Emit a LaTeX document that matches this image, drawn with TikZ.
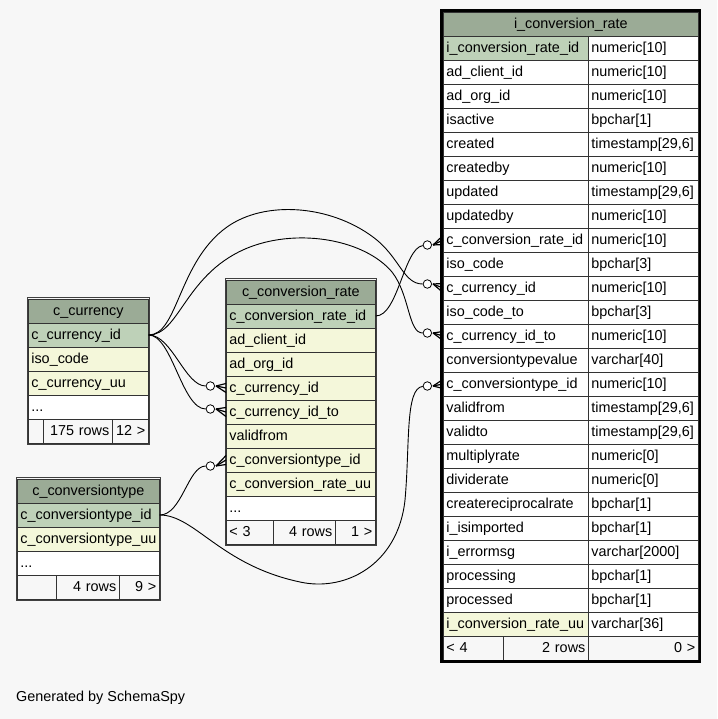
\documentclass[tikz,border=0pt]{standalone}
\usepackage{fontspec}
\setmainfont{Liberation Sans}
\usepackage{xcolor}
\usetikzlibrary{positioning}
\definecolor{hdr}{HTML}{9BAB96}
\definecolor{keycol}{HTML}{BED1B8}
\definecolor{idxcol}{HTML}{F4F7DA}
\definecolor{bgcol}{HTML}{F7F7F7}
\tikzset{
  cell/.style={draw=black!80, line width=0.7pt, anchor=west, minimum height=24pt,
    inner xsep=3pt, inner ysep=0pt, text height=10.5pt, text depth=0.8pt, align=left},
  head/.style={cell, fill=hdr, align=center},
  foot/.style={cell, fill=bgcol, align=right},
  frame/.style={draw=black!75, line width=0.9pt},
  odot/.style={circle, draw, fill=white, line width=0.8pt, minimum size=8.5pt, inner sep=0pt},
  rel/.style={line width=0.9pt},
  crowline/.style={line width=1.2pt},
}

\begin{document}
\begin{tikzpicture}[x=1pt,y=-1pt,font=\fontsize{14.4}{17}\selectfont]
\fill[bgcol] (0,0) rectangle (717,719);
\useasboundingbox (0,0) rectangle (717,719);

% i_conversion_rate
\node[head, text width=249pt] (irtitle) at (443,24) {i\_conversion\_rate};
\foreach \nm/\ty/\cl [count=\i] in {i\_conversion\_rate\_id/numeric[10]/keycol,
  ad\_client\_id/numeric[10]/white, ad\_org\_id/numeric[10]/white,
  isactive/bpchar[1]/white, created/{timestamp[29,6]}/white,
  createdby/numeric[10]/white, updated/{timestamp[29,6]}/white,
  updatedby/numeric[10]/white, c\_conversion\_rate\_id/numeric[10]/white,
  iso\_code/bpchar[3]/white, c\_currency\_id/numeric[10]/white,
  iso\_code\_to/bpchar[3]/white, c\_currency\_id\_to/numeric[10]/white,
  conversiontypevalue/varchar[40]/white, c\_conversiontype\_id/numeric[10]/white,
  validfrom/{timestamp[29,6]}/white, validto/{timestamp[29,6]}/white,
  multiplyrate/numeric[0]/white, dividerate/numeric[0]/white,
  createreciprocalrate/bpchar[1]/white, i\_isimported/bpchar[1]/white,
  i\_errormsg/varchar[2000]/white, processing/bpchar[1]/white,
  processed/bpchar[1]/white, i\_conversion\_rate\_uu/varchar[36]/idxcol}{
  \node[cell, fill=\cl, text width=139pt] (irn\i) at (443,24+24*\i) {\nm};
  \node[cell, fill=white, text width=104pt] (irt\i) at (588,24+24*\i) {\ty};
}
\node[foot, align=left, text width=54pt] (irf1) at (443,648) {<~4};
\node[foot, text width=79pt] (irf2) at (503,648) {2~rows};
\node[foot, text width=104pt] (irf3) at (588,648) {0~>};
\draw[line width=2.6pt] ([shift={(-1.3pt,1.3pt)}]irtitle.north west) rectangle ([shift={(1.3pt,-1.3pt)}]irf3.south east);

% c_conversion_rate
\node[head, text width=143pt] (crtitle) at (226,292) {c\_conversion\_rate};
\foreach \nm/\cl [count=\i] in {c\_conversion\_rate\_id/keycol, ad\_client\_id/idxcol,
  ad\_org\_id/idxcol, c\_currency\_id/idxcol, c\_currency\_id\_to/idxcol,
  validfrom/idxcol, c\_conversiontype\_id/idxcol, c\_conversion\_rate\_uu/idxcol, .{}.{}./white}{
  \node[cell, fill=\cl, text width=143pt] (crn\i) at (226,292+24*\i) {\nm};
}
\node[foot, align=left, text width=41pt] (crf1) at (226,532) {<~3};
\node[foot, text width=56pt] (crf2) at (273,532) {4~rows};
\node[foot, text width=34pt] (crf3) at (335,532) {1~>};
\draw[frame] ([shift={(-0.8pt,0.8pt)}]crtitle.north west) rectangle ([shift={(0.8pt,-0.8pt)}]crf3.south east);

% c_currency
\node[head, text width=114pt] (cctitle) at (28,311) {c\_currency};
\foreach \nm/\cl [count=\i] in {c\_currency\_id/keycol, iso\_code/idxcol,
  c\_currency\_uu/idxcol, .{}.{}./white}{
  \node[cell, fill=\cl, text width=114pt] (ccn\i) at (28,311+24*\i) {\nm};
}
\node[foot, text width=9pt] (ccf1) at (28,431) {};
\node[foot, text width=63pt] (ccf2) at (43,431) {175~rows};
\node[foot, text width=30pt] (ccf3) at (112,431) {12~>};
\draw[frame] ([shift={(-0.8pt,0.8pt)}]cctitle.north west) rectangle ([shift={(0.8pt,-0.8pt)}]ccf3.south east);

% c_conversiontype
\node[head, text width=136pt] (cttitle) at (17,491) {c\_conversiontype};
\foreach \nm/\cl [count=\i] in {c\_conversiontype\_id/keycol,
  c\_conversiontype\_uu/idxcol, .{}.{}./white}{
  \node[cell, fill=\cl, text width=136pt] (ctn\i) at (17,491+24*\i) {\nm};
}
\node[foot, text width=33pt] (ctf1) at (17,587) {};
\node[foot, text width=57pt] (ctf2) at (56,587) {4~rows};
\node[foot, text width=34pt] (ctf3) at (119,587) {9~>};
\draw[frame] ([shift={(-0.8pt,0.8pt)}]cttitle.north west) rectangle ([shift={(0.8pt,-0.8pt)}]ctf3.south east);

% zero-or-many ends
\node[odot, left=11pt of crn4.west, yshift=2pt] (o1) {};
\node[odot, left=11pt of crn5.west, yshift=3pt] (o2) {};
\node[odot, left=11pt of irn11.west, yshift=4pt] (o3) {};
\node[odot, left=11pt of irn13.west, yshift=3pt] (o4) {};
\node[odot, left=11pt of irn9.west, yshift=-5pt] (o5) {};
\node[odot, left=11pt of crn7.west, yshift=-6pt] (o6) {};
\node[odot, left=11pt of irn15.west, yshift=-2pt] (o7) {};
\foreach \o/\r in {o1/crn4, o2/crn5, o3/irn11, o4/irn13, o5/irn9, o6/crn7, o7/irn15}{
  \draw[crowline] ([xshift=1pt]\o.east) -- (\r.west);
  \draw[crowline] ([xshift=1pt]\o.east) -- ([yshift=4.5pt]\r.west);
  \draw[crowline] ([xshift=1pt]\o.east) -- ([yshift=-4.5pt]\r.west);
}

% relationships
\draw[rel] (ccn1.east) .. controls (172,335) and (185,386) .. (o1);
\draw[rel] (ccn1.east) .. controls (172,335) and (182,409) .. (o2);
\draw[rel] (ccn1.east) .. controls (178,335) and (178,262) .. (227,227)
  .. controls (265,200) and (330,205) .. (373,237) .. controls (400,257) and (403,284) .. (o3);
\draw[rel] (ccn1.east) .. controls (180,335) and (185,272) .. (250,247)
  .. controls (300,228) and (365,240) .. (392,272) .. controls (410,295) and (408,333) .. (o4);
\draw[rel] (crn1.east) .. controls (398,316) and (404,248) .. (o5);
\draw[rel] (ctn1.east) .. controls (182,515) and (188,466) .. (o6);
\draw[rel] (ctn1.east) .. controls (195,515) and (220,565) .. (300,582)
  .. controls (345,592) and (398,565) .. (405,500) .. controls (410,445) and (405,388) .. (o7);

\node[anchor=west, inner sep=0pt] (credit) at (16,698) {Generated by SchemaSpy};
\end{tikzpicture}
\end{document}
